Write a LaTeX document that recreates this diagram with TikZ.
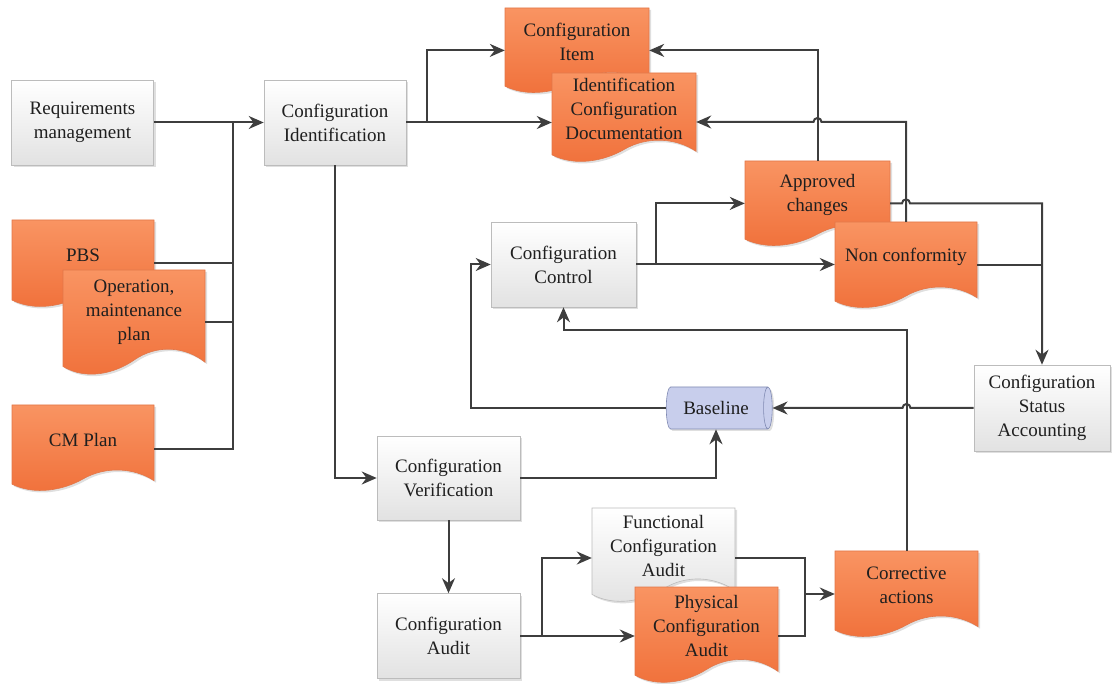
\documentclass[tikz,border=0pt]{standalone}
\usepackage{fontspec}
\setmainfont{Liberation Serif}
\usetikzlibrary{arrows.meta,calc,shapes.geometric,shadows}

\definecolor{docTop}{RGB}{249,148,98}
\definecolor{docBot}{RGB}{240,112,58}
\definecolor{docLine}{RGB}{226,118,72}
\definecolor{boxLine}{RGB}{188,188,188}
\definecolor{boxBot}{RGB}{226,226,226}
\definecolor{baseFill}{RGB}{200,206,236}
\definecolor{baseLine}{RGB}{128,138,178}
\definecolor{wire}{RGB}{62,62,62}

% document shape: style, name, left, top, width, height, text
\newcommand{\docnode}[7]{%
  \path[#1] (#3,#4) -- (#3+#5,#4) -- (#3+#5,#4+0.87*#6)
    .. controls (#3+0.86*#5,#4+0.72*#6) and (#3+0.66*#5,#4+0.70*#6) .. (#3+0.5*#5,#4+0.85*#6)
    .. controls (#3+0.36*#5,#4+0.98*#6) and (#3+0.16*#5,#4+1.04*#6) .. (#3,#4+0.91*#6) -- cycle;
  \node[doctext, minimum width=#5pt, minimum height={0.8*#6pt}] (#2) at (#3+0.5*#5,#4+0.4*#6) {#7};
}

\begin{document}
\begin{tikzpicture}[x=1pt,y=-1pt,
    txt/.style={align=center, text=black!88, font=\fontsize{19}{24}\selectfont},
    shade/.style={drop shadow={shadow xshift=2pt, shadow yshift=-2pt, opacity=0.25, fill=black!50}},
    box/.style={txt, shade, draw=boxLine, line width=0.6pt, top color=white, bottom color=boxBot,
      minimum width=142pt, minimum height=85pt, inner sep=2pt},
    doctext/.style={txt, inner sep=0pt},
    docorange/.style={shade, draw=docLine, line width=0.6pt, top color=docTop, bottom color=docBot},
    docgray/.style={shade, draw=boxLine, line width=0.6pt, top color=white, bottom color=boxBot},
    store/.style={txt, shade, cylinder, shape aspect=0.5, draw=baseLine, line width=0.6pt,
      fill=baseFill, minimum height=106pt, minimum width=42pt, inner sep=2pt},
    line/.style={draw=wire, line width=2pt},
    flow/.style={line, -{Stealth[length=15pt,width=13pt]}}]
  \useasboundingbox (0,0) rectangle (1112,684);

  % boxes
  \node[box] (req) at (82.5,122.5) {Requirements\\management};
  \node[box] (cid) at (335,122.5) {Configuration\\Identification};
  \node[box, minimum width=145pt] (cctl) at (563.5,264.5) {Configuration\\Control};
  \node[box, minimum width=136pt, minimum height=86pt] (csa) at (1042,408) {Configuration\\Status\\Accounting};
  \node[box, minimum width=143pt, minimum height=84pt] (cver) at (448.5,478) {Configuration\\Verification};
  \node[box, minimum width=143pt] (caud) at (448.5,636) {Configuration\\Audit};
  \node[store] (base) at (716,408) {Baseline};

  % documents
  \docnode{docorange}{pbs}{12}{220}{142}{88}{PBS}
  \docnode{docorange}{opm}{63}{270}{142}{106}{Operation,\\maintenance\\plan}
  \docnode{docorange}{cmp}{12}{405}{142}{87}{CM Plan}
  \docnode{docorange}{citem}{505}{8}{144}{86}{Configuration\\Item}
  \docnode{docorange}{idoc}{552}{73}{144}{90}{Identification\\Configuration\\Documentation}
  \docnode{docorange}{appr}{745}{161}{145}{86}{Approved\\changes}
  \docnode{docorange}{ncon}{835}{222}{142}{87}{Non conformity}
  \docnode{docgray}{func}{592}{508}{143}{95}{Functional\\Configuration\\Audit}
  \docnode{docorange}{phys}{635}{587}{143}{97}{Physical\\Configuration\\Audit}
  \docnode{docorange}{corr}{835}{551}{143}{87}{Corrective\\actions}

  % junctions
  \coordinate (bus) at (233,122.5);
  \coordinate (j2) at (427,122.5);
  \coordinate (j3) at (542,636);
  \coordinate (j4) at (805,594);
  \coordinate (j5) at (563.5,330);
  \coordinate (j6) at (656,264.5);
  \coordinate (j7) at (471,408);

  % inputs
  \draw[flow] (req) -- (cid);
  \draw[line] ([yshift=-8pt]pbs.east) -| (bus);
  \draw[line] ([yshift=-10pt]opm.east) -| (bus);
  \draw[line] ([yshift=-9pt]cmp.east) -| (bus);

  % identification
  \draw[flow] (cid) -- (cid -| idoc.west);
  \draw[flow] (j2) |- ([yshift=-8pt]citem.west);
  \draw[flow] (cid) |- (cver);

  % verification and audit
  \draw[flow] (cver) -| (base);
  \draw[flow] (cver) -- (caud);
  \draw[flow] (caud) -- (caud -| phys.west);
  \draw[flow] (j3) |- ([yshift=-12pt]func.west);
  \draw[line] ([yshift=-12pt]func.east) -| (j4);
  \draw[line] ([yshift=-10pt]phys.east) -| (j4);
  \draw[flow] (j4) -- (j4 -| corr.west);
  \draw[flow] (corr) |- (j5) -- (cctl);

  % control
  \draw[flow] (cctl) -- (cctl -| ncon.west);
  \draw[flow] (j6) |- ([yshift=-8pt]appr.west);
  \draw[flow] (appr) |- ([yshift=-8pt]citem.east);
  \draw[flow] (ncon) |- ($(appr.north |- idoc.east)+(4,13)$)
    arc[start angle=0, end angle=180, radius=4pt] -- ([yshift=-13pt]idoc.east);
  \draw[flow] ([yshift=-8pt]appr.east) -- ($(appr.east -| ncon.north)+(-4,8)$)
    arc[start angle=180, end angle=0, radius=4pt] -| (csa);
  \draw[line] ([yshift=-8pt]ncon.east) -- ($(ncon.east -| csa)+(0,8)$);

  % status accounting
  \draw[flow] (csa) -- ($(csa.west -| corr.north)+(4,0)$)
    arc[start angle=0, end angle=180, radius=4pt] -- (base);
  \draw[flow] (base) -- (j7) |- (cctl);
\end{tikzpicture}
\end{document}
